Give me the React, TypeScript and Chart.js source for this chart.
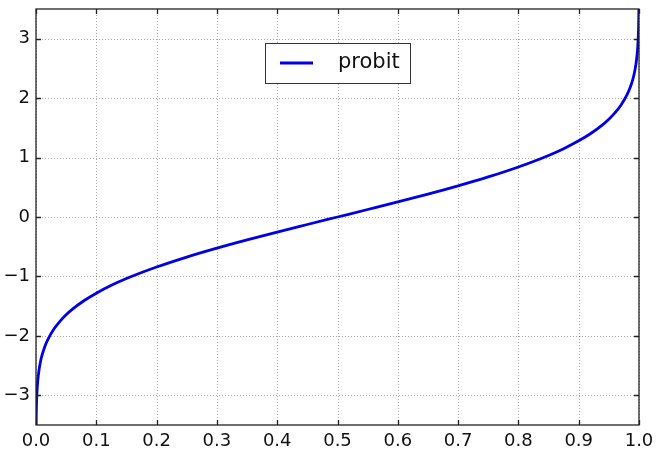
import React, { useEffect, useRef } from "react";
import { Chart, registerables } from "chart.js";

Chart.register(...registerables);

const xValues = [
  0.0002, 0.0005, 0.001, 0.002, 0.003, 0.005, 0.0075, 0.01, 0.015, 0.02, 0.03, 0.04, 0.05, 0.06, 0.08,
  0.1, 0.125, 0.15, 0.2, 0.25, 0.3, 0.35, 0.4, 0.45, 0.5,
  0.55, 0.6, 0.65, 0.7, 0.75, 0.8, 0.85, 0.875, 0.9,
  0.92, 0.94, 0.95, 0.96, 0.97, 0.98, 0.985, 0.99, 0.9925, 0.995, 0.997, 0.998, 0.999, 0.9995, 0.9998,
];
const probitValues = [
  -3.54, -3.291, -3.09, -2.878, -2.748, -2.576, -2.432, -2.326, -2.17, -2.054, -1.881, -1.751, -1.645, -1.555, -1.405,
  -1.282, -1.15, -1.036, -0.842, -0.674, -0.524, -0.385, -0.253, -0.126, 0,
  0.126, 0.253, 0.385, 0.524, 0.674, 0.842, 1.036, 1.15, 1.282,
  1.405, 1.555, 1.645, 1.751, 1.881, 2.054, 2.17, 2.326, 2.432, 2.576, 2.748, 2.878, 3.09, 3.291, 3.54,
];
const xTicks = [0, 0.1, 0.2, 0.3, 0.4, 0.5, 0.6, 0.7, 0.8, 0.9, 1.0];
const yTicks = [-3, -2, -1, 0, 1, 2, 3];
const seriesLabel = "probit";

const FONT = "'DejaVu Sans', sans-serif";
const LINE_COLOR = "#0000e8";

const framePlugin = {
  id: "frame",
  beforeDatasetsDraw(chart: any) {
    const { ctx, chartArea: a, scales } = chart;
    ctx.save();
    ctx.strokeStyle = "rgba(0,0,0,0.33)";
    ctx.lineWidth = 1;
    ctx.setLineDash([1, 2]);
    for (const v of xTicks) {
      const x = Math.round(scales.x.getPixelForValue(v)) + 0.5;
      ctx.beginPath();
      ctx.moveTo(x, a.top);
      ctx.lineTo(x, a.bottom);
      ctx.stroke();
    }
    for (const v of yTicks) {
      const y = Math.round(scales.y.getPixelForValue(v)) + 0.5;
      ctx.beginPath();
      ctx.moveTo(a.left, y);
      ctx.lineTo(a.right, y);
      ctx.stroke();
    }
    ctx.restore();
  },
  afterDraw(chart: any) {
    const { ctx, chartArea: a, scales } = chart;
    ctx.save();
    ctx.strokeStyle = "#222";
    ctx.lineWidth = 1.3;
    ctx.setLineDash([]);
    const L = 5;
    for (const v of xTicks) {
      const x = Math.round(scales.x.getPixelForValue(v)) + 0.5;
      ctx.beginPath();
      ctx.moveTo(x, a.bottom);
      ctx.lineTo(x, a.bottom - L);
      ctx.moveTo(x, a.top);
      ctx.lineTo(x, a.top + L);
      ctx.stroke();
    }
    for (const v of yTicks) {
      const y = Math.round(scales.y.getPixelForValue(v)) + 0.5;
      ctx.beginPath();
      ctx.moveTo(a.left, y);
      ctx.lineTo(a.left + L, y);
      ctx.moveTo(a.right, y);
      ctx.lineTo(a.right - L, y);
      ctx.stroke();
    }
    ctx.strokeRect(a.left, a.top, a.right - a.left, a.bottom - a.top);

    // legend
    const cx = (a.left + a.right) / 2;
    const w = 145, h = 40;
    const lx = cx - w / 2, ly = a.top + 34;
    ctx.fillStyle = "#fff";
    ctx.fillRect(lx, ly, w, h);
    ctx.strokeStyle = "#333";
    ctx.lineWidth = 1;
    ctx.strokeRect(Math.round(lx) + 0.5, Math.round(ly) + 0.5, w, h);
    ctx.strokeStyle = LINE_COLOR;
    ctx.lineWidth = 2.8;
    ctx.beginPath();
    ctx.moveTo(lx + 15, ly + h / 2);
    ctx.lineTo(lx + 48, ly + h / 2);
    ctx.stroke();
    ctx.fillStyle = "#111";
    ctx.font = `21px ${FONT}`;
    ctx.textBaseline = "middle";
    ctx.textAlign = "left";
    ctx.fillText(seriesLabel, lx + 73, ly + h / 2);
    ctx.restore();
  },
};

export default function App() {
  const ref = useRef<HTMLCanvasElement>(null);
  useEffect(() => {
    const chart = new Chart(ref.current!, {
      type: "line",
      data: {
        datasets: [
          {
            label: seriesLabel,
            data: xValues.map((x, i) => ({ x, y: probitValues[i] })),
            borderColor: LINE_COLOR,
            borderWidth: 2.8,
            pointRadius: 0,
            fill: false,
            cubicInterpolationMode: "monotone",
          },
        ],
      },
      options: {
        animation: false,
        responsive: true,
        maintainAspectRatio: false,
        layout: { padding: { top: 9, right: 30, left: 0, bottom: 0 } },
        plugins: { legend: { display: false }, tooltip: { enabled: false } },
        scales: {
          x: {
            type: "linear",
            min: 0,
            max: 1,
            afterBuildTicks: (s: any) => {
              s.ticks = xTicks.map((v) => ({ value: v }));
            },
            afterFit: (s: any) => {
              s.height = 31;
              s.paddingLeft = 0;
              s.paddingRight = 0;
            },
            grid: { display: false, drawTicks: false },
            border: { display: false },
            ticks: {
              padding: 6,
              maxRotation: 0,
              autoSkip: false,
              color: "#111",
              font: { family: FONT, size: 18 },
              callback: (v: any) => Number(v).toFixed(1),
            },
          },
          y: {
            type: "linear",
            min: -3.5,
            max: 3.5,
            afterBuildTicks: (s: any) => {
              s.ticks = yTicks.map((v) => ({ value: v }));
            },
            afterFit: (s: any) => {
              s.width = 36;
              s.paddingTop = 0;
              s.paddingBottom = 0;
            },
            grid: { display: false, drawTicks: false },
            border: { display: false },
            ticks: {
              padding: 6,
              autoSkip: false,
              color: "#111",
              font: { family: FONT, size: 18 },
              callback: (v: any) => (Number(v) < 0 ? "\u2212" + Math.abs(Number(v)) : String(v)),
            },
          },
        },
      },
      plugins: [framePlugin],
    });
    return () => chart.destroy();
  }, []);
  return (
    <div style={{ position: "fixed", left: 0, top: 0, width: 669, height: 456, background: "#fff" }}>
      <canvas ref={ref} />
    </div>
  );
}
